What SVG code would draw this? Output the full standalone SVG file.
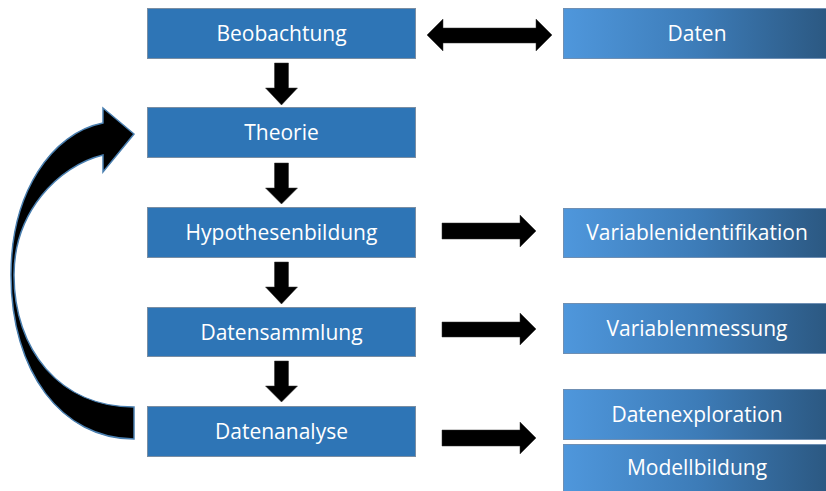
<svg xmlns="http://www.w3.org/2000/svg" width="826" height="491" viewBox="0 0 826 491">
<defs>
<linearGradient id="g" x1="0" y1="0" x2="1" y2="0">
<stop offset="0" stop-color="#4f97dc"/>
<stop offset="0.5" stop-color="#3d7cb8"/>
<stop offset="1" stop-color="#2b5780"/>
</linearGradient>
<style>
.lb{fill:#2e75b6;stroke:#7a8ea3;stroke-width:1}
.rb{fill:url(#g);stroke:#6f8fb3;stroke-width:1}
.t{font-family:"Open Sans","Noto Sans","Liberation Sans",sans-serif;font-size:21px;fill:#ffffff;text-anchor:middle}
.a{fill:#000000;stroke:#333333;stroke-width:0.5}
</style>
</defs>
<rect width="826" height="491" fill="#ffffff"/>
<g id="connectors">
<path class="a" d="M427,35 L443,19 L443,28 L536,28 L536,19 L552,35 L536,51 L536,43 L443,43 L443,51 Z"/>
<path class="a" d="M274.5,63 L288.5,63 L288.5,88 L297.5,88 L281.5,105 L265.5,88 L274.5,88 Z"/>
<path class="a" d="M274.5,163 L288.5,163 L288.5,188 L297.5,188 L281.5,204 L265.5,188 L274.5,188 Z"/>
<path class="a" d="M274.5,262 L288.5,262 L288.5,287 L297.5,287 L281.5,304 L265.5,287 L274.5,287 Z"/>
<path class="a" d="M274.5,361 L288.5,361 L288.5,386 L297.5,386 L281.5,402 L265.5,386 L274.5,386 Z"/>
<path class="a" d="M442,223 L520,223 L520,215 L536,231 L520,247 L520,239 L442,239 Z"/>
<path class="a" d="M442,322 L520,322 L520,313 L536,329 L520,345 L520,337 L442,337 Z"/>
<path class="a" d="M442,430 L520,430 L520,422 L536,438 L520,454 L520,446 L442,446 Z"/>
<path d="M134,439 C62,439 11,372 11,275 C11,192 52,133 103,123 L103,108 L134,134 L103,172 L103,155 C58,166 14,212 14,275 C14,350 60,407 134,407 Z" fill="#000000" stroke="#4a7fb0" stroke-width="1.5" stroke-linejoin="miter"/>
</g>
<g id="n-beobachtung"><rect class="lb" x="147.5" y="8.5" width="268" height="50"/><text class="t" x="281.5" y="41">Beobachtung</text></g>
<g id="n-theorie"><rect class="lb" x="147.5" y="107.5" width="268" height="50"/><text class="t" x="281.5" y="140">Theorie</text></g>
<g id="n-hypothesenbildung"><rect class="lb" x="147.5" y="207.5" width="268" height="50"/><text class="t" x="281.5" y="240">Hypothesenbildung</text></g>
<g id="n-datensammlung"><rect class="lb" x="147.5" y="307.5" width="268" height="49"/><text class="t" x="281.5" y="339.5">Datensammlung</text></g>
<g id="n-datenanalyse"><rect class="lb" x="147.5" y="406.5" width="268" height="50"/><text class="t" x="281.5" y="439">Datenanalyse</text></g>
<g id="n-daten"><rect class="rb" x="563.5" y="8.5" width="268" height="50"/><text class="t" x="697" y="41">Daten</text></g>
<g id="n-variablenidentifikation"><rect class="rb" x="563.5" y="208.5" width="268" height="49"/><text class="t" x="697" y="240">Variablenidentifikation</text></g>
<g id="n-variablenmessung"><rect class="rb" x="563.5" y="303.5" width="268" height="50"/><text class="t" x="697" y="336">Variablenmessung</text></g>
<g id="n-datenexploration"><rect class="rb" x="563.5" y="389.5" width="268" height="50"/><text class="t" x="697" y="422">Datenexploration</text></g>
<g id="n-modellbildung"><rect class="rb" x="563.5" y="444.5" width="268" height="50"/><text class="t" x="697" y="475">Modellbildung</text></g>
</svg>
